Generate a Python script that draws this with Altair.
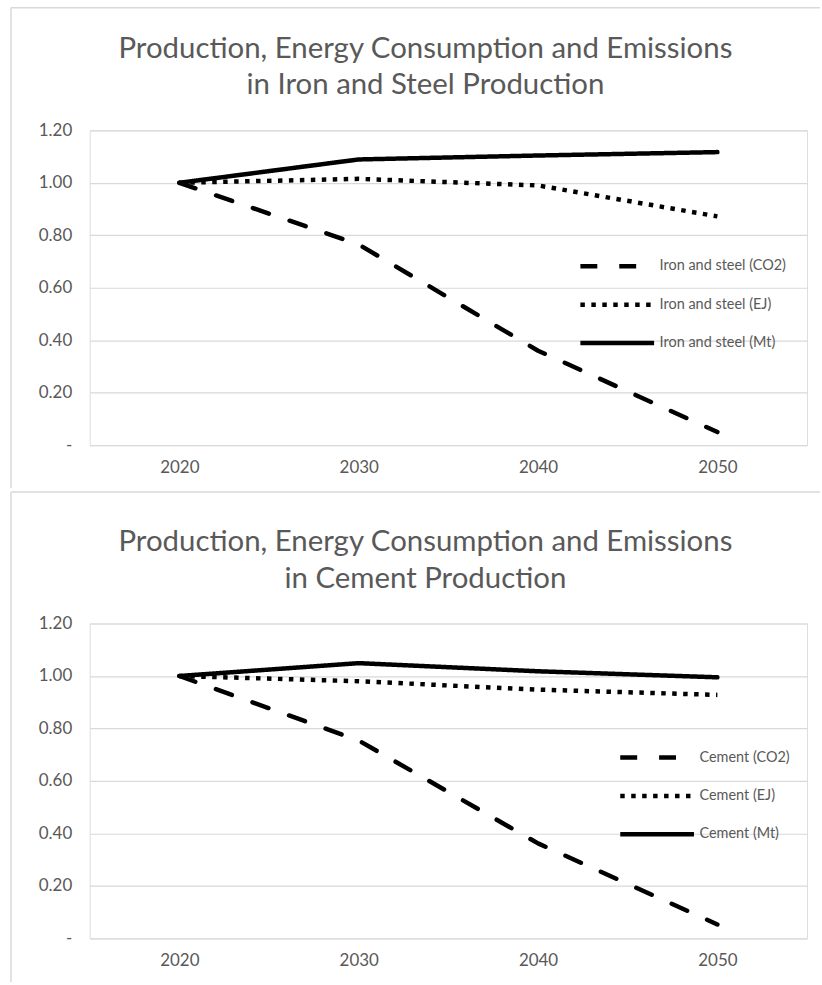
import altair as alt
import pandas as pd

# Index values (2020 = 1.00)
years = ["2020", "2030", "2040", "2050"]

steel_series = ["Iron and steel (CO2)", "Iron and steel (EJ)", "Iron and steel (Mt)"]
steel_co2 = [1.00, 0.765, 0.360, 0.050]
steel_ej = [1.00, 1.015, 0.990, 0.872]
steel_mt = [1.00, 1.089, 1.104, 1.117]

cement_series = ["Cement (CO2)", "Cement (EJ)", "Cement (Mt)"]
cement_co2 = [1.00, 0.754, 0.362, 0.053]
cement_ej = [1.00, 0.980, 0.948, 0.928]
cement_mt = [1.00, 1.049, 1.018, 0.995]

y_ticks = [0, 0.2, 0.4, 0.6, 0.8, 1.0, 1.2]

# dashed / dotted / solid
dash_patterns = [[17, 22], [4.5, 6.5], [1, 0]]

FONT = "Lato"
TEXT = "#595959"
GRID = "#d9d9d9"
W, H = 720, 316


def long_table(names, columns):
    rows = []
    for name, vals in zip(names, columns):
        for yr, v in zip(years, vals):
            rows.append({"year": yr, "series": name, "value": v})
    return pd.DataFrame(rows)


def panel(title_lines, names, columns, top_gap, bottom_gap, legend_x, legend_y):
    df = long_table(names, columns)
    dotted_name = names[1]

    x_enc = alt.X(
        "year:O",
        sort=years,
        axis=alt.Axis(
            title=None, labelAngle=0, ticks=False, domain=False,
            labelFont=FONT, labelFontSize=17, labelColor=TEXT, labelPadding=14,
        ),
    )
    y_enc = alt.Y(
        "value:Q",
        scale=alt.Scale(domain=[0, 1.2], nice=False),
        axis=alt.Axis(
            values=y_ticks, title=None, ticks=False, domain=False,
            gridColor=GRID, gridWidth=1.2,
            labelExpr="datum.value == 0 ? '-' : format(datum.value, '.2f')",
            labelFont=FONT, labelFontSize=17, labelColor=TEXT, labelPadding=18,
        ),
    )
    dash_enc = alt.StrokeDash(
        "series:N",
        scale=alt.Scale(domain=names, range=dash_patterns),
        legend=alt.Legend(
            title=None, orient="none", legendX=legend_x, legendY=legend_y,
            symbolType="stroke", symbolSize=5476, symbolStrokeWidth=4.5,
            symbolStrokeColor="black",
            clipHeight=20, rowPadding=18.5, labelOffset=3,
            labelFont=FONT, labelFontSize=14.5, labelColor=TEXT,
        ),
    )

    base = alt.Chart(df).encode(x=x_enc, y=y_enc, strokeDash=dash_enc)
    # dashed and solid series with rounded ends, dotted series with square dots
    rounded = base.transform_filter(alt.datum.series != dotted_name).mark_line(
        color="black", strokeWidth=4.5, strokeCap="round", strokeJoin="round"
    )
    dotted = base.transform_filter(alt.datum.series == dotted_name).mark_line(
        color="black", strokeWidth=4.5
    )

    frame = alt.Data(values=[{}])
    top_edge = alt.Chart(frame).mark_rule(color=GRID, strokeWidth=1.5).encode(
        x=alt.value(-79), x2=alt.value(733), y=alt.value(-top_gap)
    )
    left_edge = alt.Chart(frame).mark_rule(color=GRID, strokeWidth=1.5).encode(
        x=alt.value(-79), y=alt.value(-top_gap), y2=alt.value(H + bottom_gap)
    )
    heading = alt.Chart(frame).mark_text(
        font=FONT, fontSize=29.5, color=TEXT, align="center", baseline="top",
        lineHeight=37,
    ).encode(x=alt.value(337), y=alt.value(-96), text=alt.value(title_lines))

    return alt.layer(top_edge, left_edge, heading, rounded, dotted).properties(
        width=W, height=H
    )


steel = panel(
    ["Production, Energy Consumption and Emissions", "in Iron and Steel Production"],
    steel_series, [steel_co2, steel_ej, steel_mt],
    top_gap=123, bottom_gap=43, legend_x=490, legend_y=126.5,
)
cement = panel(
    ["Production, Energy Consumption and Emissions", "in Cement Production"],
    cement_series, [cement_co2, cement_ej, cement_mt],
    top_gap=132, bottom_gap=44, legend_x=530, legend_y=124.5,
)

chart = (
    alt.vconcat(steel, cement, spacing=0)
    .resolve_scale(x="independent", y="independent", strokeDash="independent")
    .resolve_legend(strokeDash="independent")
    .properties(padding={"left": 9, "top": 4, "right": 0, "bottom": 0})
    .configure_view(strokeWidth=0)
    .configure(background="white")
)

chart.save("out.html", embed_options={"renderer": "svg", "actions": False})
